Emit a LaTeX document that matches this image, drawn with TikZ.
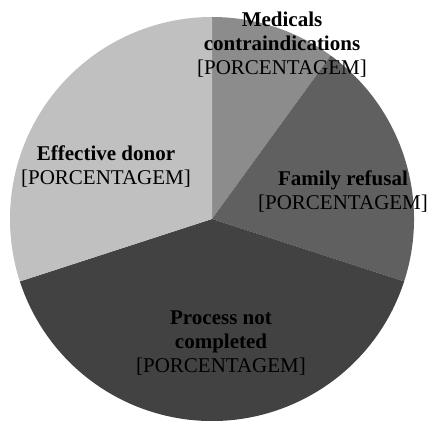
\documentclass[tikz,border=0pt]{standalone}
\usepackage{fontspec}
\setmainfont{Liberation Serif}
\definecolor{cMed}{RGB}{140,140,140}
\definecolor{cFam}{RGB}{96,96,96}
\definecolor{cProc}{RGB}{66,66,66}
\definecolor{cEff}{RGB}{192,192,192}
\tikzset{
  slice/.style={draw=none},
  lbl/.style={anchor=base, align=center, inner sep=0pt, text=black,
              font=\fontsize{21}{24}\selectfont},
}
\begin{document}
\begin{tikzpicture}[x=1pt,y=1pt]
\useasboundingbox (0,0) rectangle (435,420);
\fill[white] (0,0) rectangle (435,420);
\coordinate (c) at (212,201);
\def\R{202}
\fill[cMed]  (c) -- ++(90:\R)  arc[start angle=90,  end angle=54,   radius=\R] -- cycle;
\fill[cFam]  (c) -- ++(54:\R)  arc[start angle=54,  end angle=-18,  radius=\R] -- cycle;
\fill[cProc] (c) -- ++(-18:\R) arc[start angle=-18, end angle=-162, radius=\R] -- cycle;
\fill[cEff]  (c) -- ++(198:\R) arc[start angle=198, end angle=90,   radius=\R] -- cycle;
\node[lbl] (med)  at (282,345) {\textbf{Medicals}\\\textbf{contraindications}\\{[PORCENTAGEM]}};
\node[lbl] (fam)  at (343,210) {\textbf{Family refusal}\\{[PORCENTAGEM]}};
\node[lbl] (proc) at (221,48)  {\textbf{Process not}\\\textbf{completed}\\{[PORCENTAGEM]}};
\node[lbl] (eff)  at (106,235) {\textbf{Effective donor}\\{[PORCENTAGEM]}};
\end{tikzpicture}
\end{document}
